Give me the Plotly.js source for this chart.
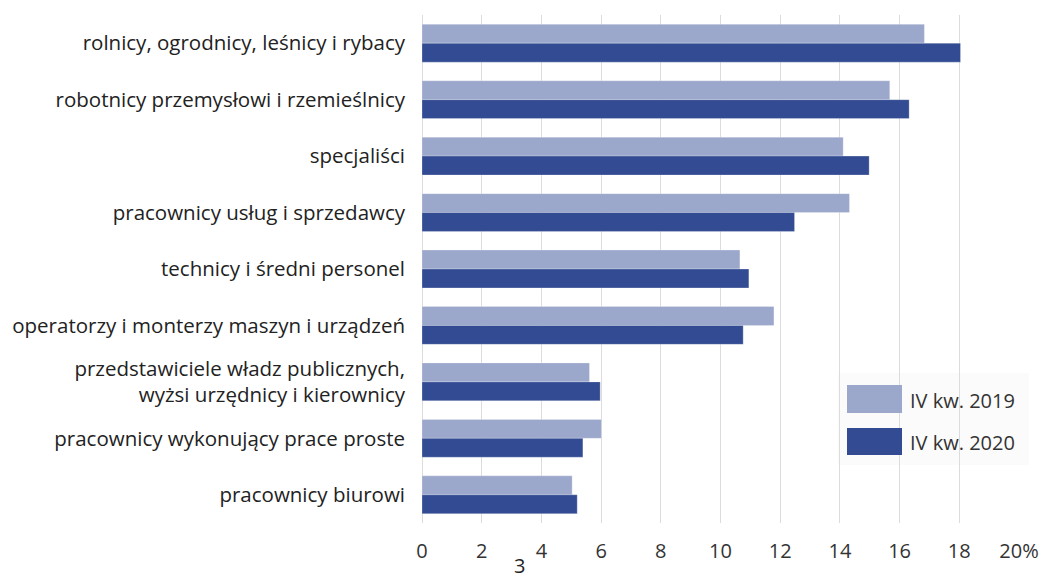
<!DOCTYPE html>
<html><head><meta charset="utf-8">
<script src="https://cdn.plot.ly/plotly-3.0.1.min.js"></script>
<style>html,body{margin:0;padding:0;background:#fff}#chart{width:1047px;height:578px}</style>
</head><body><div id="chart"></div>
<script>
const categories = [
  "rolnicy, ogrodnicy, leśnicy i rybacy",
  "robotnicy przemysłowi i rzemieślnicy",
  "specjaliści",
  "pracownicy usług i sprzedawcy",
  "technicy i średni personel",
  "operatorzy i monterzy maszyn i urządzeń",
  "przedstawiciele władz publicznych,<br>wyżsi urzędnicy i kierownicy",
  "pracownicy wykonujący prace proste",
  "pracownicy biurowi"
];
const values2019 = [16.83, 15.67, 14.11, 14.32, 10.65, 11.79, 5.61, 6.01, 5.03];
const values2020 = [18.04, 16.32, 14.98, 12.48, 10.95, 10.76, 5.97, 5.39, 5.20];
const seriesNames = ["IV kw. 2019", "IV kw. 2020"];
const tickVals = [0, 2, 4, 6, 8, 10, 12, 14, 16, 18, 20];
const tickLabels = ["0", "2", "4", "6", "8", "10", "12", "14", "16", "18", "20%"];

const light = "#9ba7cb", dark = "#334b92";
const font = "Open Sans, Noto Sans, sans-serif";

const traces = [
  {type: "bar", orientation: "h", name: seriesNames[0], y: categories, x: values2019,
   marker: {color: light, line: {color: "rgba(255,255,255,0.5)", width: 0.5}}, showlegend: false},
  {type: "bar", orientation: "h", name: seriesNames[1], y: categories, x: values2020,
   marker: {color: dark, line: {color: "rgba(255,255,255,0.5)", width: 0.5}}, showlegend: false}
];

const layout = {
  width: 1047, height: 578,
  margin: {l: 422, r: 28, t: 15, b: 55},
  paper_bgcolor: "#fff", plot_bgcolor: "#fff",
  barmode: "group", bargap: 0.33, bargroupgap: 0,
  font: {family: font, color: "#222"},
  xaxis: {range: [0, 20], tickvals: tickVals, ticktext: tickLabels,
    showgrid: true, gridcolor: "#dcdcdc", gridwidth: 1, zeroline: true, zerolinecolor: "#dcdcdc",
    tickfont: {size: 20, color: "#333"}, ticks: "", showline: false, ticklabelstandoff: 14, fixedrange: true},
  yaxis: {autorange: "reversed", tickfont: {size: 20.5, color: "#222"}, ticks: "", ticklen: 0,
    ticklabelstandoff: 16, showline: false, showgrid: false, automargin: false},
  shapes: [
    {type: "rect", xref: "paper", yref: "paper", x0: (838-422)/597, x1: (1029-422)/597,
     y0: (523-465)/508, y1: (523-373)/508, fillcolor: "#fbfbfb", line: {width: 0}, layer: "below"},
    {type: "rect", xref: "paper", yref: "paper", x0: (847-422)/597, x1: (902-422)/597,
     y0: (523-413)/508, y1: (523-385)/508, fillcolor: light, line: {width: 0}},
    {type: "rect", xref: "paper", yref: "paper", x0: (847-422)/597, x1: (902-422)/597,
     y0: (523-455)/508, y1: (523-428)/508, fillcolor: dark, line: {width: 0}}
  ],
  annotations: [
    {xref: "paper", yref: "paper", x: (908-422)/597, y: (523-400)/508, xanchor: "left", yanchor: "middle",
     text: seriesNames[0], showarrow: false, font: {size: 20, color: "#333"}},
    {xref: "paper", yref: "paper", x: (908-422)/597, y: (523-442)/508, xanchor: "left", yanchor: "middle",
     text: seriesNames[1], showarrow: false, font: {size: 20, color: "#333"}},
    {xref: "paper", yref: "paper", x: (519-422)/597, y: (523-565)/508, xanchor: "center", yanchor: "middle",
     text: "3", showarrow: false, font: {size: 20, color: "#222"}}
  ]
};
Plotly.newPlot("chart", traces, layout, {displayModeBar: false, staticPlot: true});
</script></body></html>
